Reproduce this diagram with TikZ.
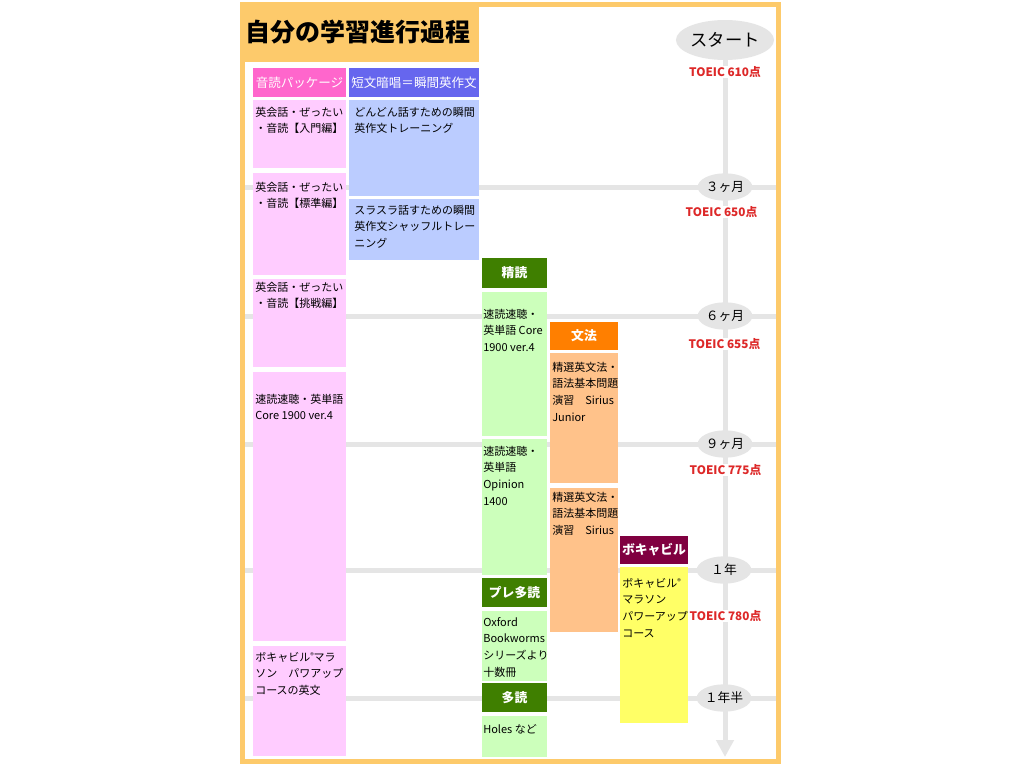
\documentclass[tikz,border=0pt]{standalone}
\usepackage{fontspec}
\setmainfont{Noto Sans CJK JP}
\usetikzlibrary{arrows.meta,shapes.geometric}
\definecolor{frameor}{HTML}{FDCA6B}
\definecolor{pinkhead}{HTML}{FF66CC}
\definecolor{pinkbody}{HTML}{FFCCFF}
\definecolor{bluehead}{HTML}{6666EE}
\definecolor{bluebody}{HTML}{BBCCFF}
\definecolor{greenhead}{HTML}{3F7F00}
\definecolor{greenbody}{HTML}{CCFFBB}
\definecolor{orhead}{HTML}{FF7F00}
\definecolor{orbody}{HTML}{FFC28A}
\definecolor{maroonhead}{HTML}{800040}
\definecolor{yelbody}{HTML}{FFFF66}
\definecolor{tlgray}{HTML}{E5E5E5}
\definecolor{scorered}{HTML}{DD2828}
\newcommand\mkbox[6]{%
  \pgfmathsetmacro\mkbw{(#5-#3)*0.75}\pgfmathsetmacro\mkbh{(#6-#4)*0.75}%
  \node[#2, anchor=north west, minimum width=\mkbw pt, minimum height=\mkbh pt] (#1) at (#3,#4) {};}
\newcommand\mkhead[7]{%
  \pgfmathsetmacro\mkbw{(#5-#3)*0.75}\pgfmathsetmacro\mkbh{(#6-#4)*0.75}%
  \node[#2, minimum width=\mkbw pt, minimum height=\mkbh pt] (#1) at ({(#3+#5)/2},{(#4+#6)/2}) {#7};}
% text node: name, x, first baseline y, number of lines, text
\newcommand\mktext[5]{%
  \pgfmathsetmacro\mkty{#3+(#4-1)*16.67}%
  \node[bodytext] (#1) at (#2,\mkty) {#5};}
\newcommand\regm{\raisebox{0.25em}{\fontsize{5.5pt}{5.5pt}\selectfont ®}}
\begin{document}
\begin{tikzpicture}[x=0.75pt,y=-0.75pt,
  boxbase/.style={inner sep=0pt, outer sep=0pt, draw=none, rectangle},
  headbase/.style={boxbase, text=white, font=\fontsize{9.4pt}{11pt}\selectfont},
  boldhead/.style={headbase, font=\fontsize{9.6pt}{11pt}\selectfont\bfseries},
  bodytext/.style={anchor=base west, inner sep=0pt, align=left, font=\fontsize{8.25pt}{12.5pt}\selectfont},
  tline/.style={draw=tlgray, line width=3.75pt},
  milestone/.style={ellipse, fill=tlgray, inner sep=0pt, minimum width=41pt, minimum height=20.5pt, font=\fontsize{9.6pt}{11pt}\selectfont},
  score/.style={fill=white, inner sep=0.6pt, text=scorered, font=\fontsize{8.8pt}{10pt}\selectfont\bfseries}
]
\useasboundingbox (0,0) rectangle (1024,768);
\fill[white] (0,0) rectangle (1024,768);
% frame and title
\draw[frameor, line width=3.75pt] (242.5,4) rectangle (778.5,761.5);
\fill[frameor] (240,2) rectangle (479,62);
\node[anchor=west, inner sep=0pt, font=\fontsize{18.75pt}{20pt}\selectfont\bfseries] (title) at (245,32) {自分の学習進行過程};
% horizontal time lines
\foreach \yy/\nm in {187/a,316/b,444/c,570/d,698/e}{
  \coordinate (hl\nm) at (245,\yy);
  \coordinate (hr\nm) at (776,\yy);
  \draw[tline] (hl\nm) -- (hr\nm);
}
% milestones
\node[ellipse, fill=tlgray, inner sep=0pt, minimum width=67.5pt, minimum height=30pt, font=\fontsize{13pt}{14pt}\selectfont] (start) at (725,40) {スタート};
\coordinate (tend) at (725,757);
\draw[tline, -{Triangle[width=12.75pt,length=12.75pt]}] (start.south) -- (tend);
\node[milestone] (m3) at (725,187) {３ヶ月};
\node[milestone] (m6) at (725,316) {６ヶ月};
\node[milestone] (m9) at (725,444) {９ヶ月};
\node[milestone] (m12) at (724,570) {１年};
\node[milestone] (m18) at (724,698) {１年半};
% scores
\node[score] (s0) at (725,72) {TOEIC 610点};
\node[score] (s3) at (721.5,212) {TOEIC 650点};
\node[score] (s6) at (724.5,344) {TOEIC 655点};
\node[score] (s9) at (725.5,470) {TOEIC 775点};
\node[score] (s12) at (725.5,616) {TOEIC 780点};
% headers
\mkhead{hpink}{headbase, fill=pinkhead}{253}{68}{346}{97}{音読パッケージ}
\mkhead{hblue}{headbase, fill=bluehead}{349}{68}{479}{97}{短文暗唱＝瞬間英作文}
\mkhead{hseidoku}{boldhead, fill=greenhead}{482}{258}{547}{288}{精読}
\mkhead{hpre}{boldhead, fill=greenhead}{482}{578}{547}{607}{プレ多読}
\mkhead{htadoku}{boldhead, fill=greenhead}{482}{683}{547}{712}{多読}
\mkhead{hbunpo}{boldhead, fill=orhead}{550}{322}{618}{350}{文法}
\mkhead{hvoc}{boldhead, fill=maroonhead}{620}{536}{688}{564}{ボキャビル}
% bodies
\mkbox{p1}{boxbase, fill=pinkbody}{253}{100}{346}{168}
\mkbox{p2}{boxbase, fill=pinkbody}{253}{173}{346}{275}
\mkbox{p3}{boxbase, fill=pinkbody}{253}{279}{346}{367}
\mkbox{p4}{boxbase, fill=pinkbody}{253}{372}{346}{641}
\mkbox{p5}{boxbase, fill=pinkbody}{253}{646}{346}{756}
\mkbox{b1}{boxbase, fill=bluebody}{349}{100}{479}{196}
\mkbox{b2}{boxbase, fill=bluebody}{349}{199}{479}{260}
\mkbox{g1}{boxbase, fill=greenbody}{482}{292}{547}{436}
\mkbox{g2}{boxbase, fill=greenbody}{482}{439}{547}{575}
\mkbox{g3}{boxbase, fill=greenbody}{482}{611}{547}{681}
\mkbox{g4}{boxbase, fill=greenbody}{482}{716}{547}{757}
\mkbox{o1}{boxbase, fill=orbody}{550}{353}{618}{483}
\mkbox{o2}{boxbase, fill=orbody}{550}{488}{618}{632}
\mkbox{y1}{boxbase, fill=yelbody}{620}{567}{688}{723}
% texts
\mktext{p1t}{255}{116}{2}{英会話・ぜったい\\・音読【入門編】}
\mktext{p2t}{255}{191}{2}{英会話・ぜったい\\・音読【標準編】}
\mktext{p3t}{255}{291}{2}{英会話・ぜったい\\・音読【挑戦編】}
\mktext{p4t}{255}{403}{2}{速読速聴・英単語\\Core 1900 ver.4}
\mktext{p5t}{255}{661}{3}{ボキャビル\regm マラ\\ソン　パワアップ\\コースの英文}
\mktext{b1t}{354}{116}{2}{どんどん話すための瞬間\\英作文トレーニング}
\mktext{b2t}{354}{214}{3}{スラスラ話すための瞬間\\英作文シャッフルトレー\\ニング}
\mktext{g1t}{483}{318}{3}{速読速聴・\\英単語 Core\\1900 ver.4}
\mktext{g2t}{483}{455}{4}{速読速聴・\\英単語\\Opinion\\1400}
\mktext{g3t}{483}{626}{4}{Oxford\\Bookworms\\シリーズより\\十数冊}
\mktext{g4t}{483}{733}{1}{Holes など}
\mktext{o1t}{552}{371}{4}{精選英文法・\\語法基本問題\\演習　Sirius\\Junior}
\mktext{o2t}{552}{501}{3}{精選英文法・\\語法基本問題\\演習　Sirius}
\mktext{y1t}{622}{587}{4}{ボキャビル\regm\\マラソン\\パワーアップ\\コース}
\end{tikzpicture}
\end{document}
